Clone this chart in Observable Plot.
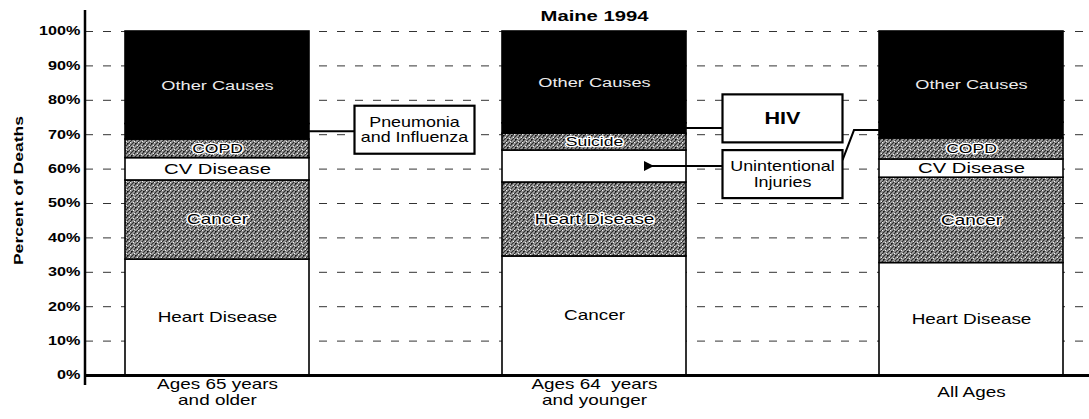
<!DOCTYPE html>
<html><head><meta charset="utf-8">
<script src="https://cdn.jsdelivr.net/npm/d3@7"></script>
<script src="https://cdn.jsdelivr.net/npm/@observablehq/plot@0.6"></script>
<style>
body{margin:0;background:#fff;}
#chart svg{display:block;}
</style></head><body><div id="chart"></div>
<script>
const title = "Maine 1994";
const yLabel = "Percent of Deaths";
const categories = ["Ages 65 years\nand older", "Ages 64  years\nand younger", "All Ages"];
const causes65 = ["Heart Disease", "Cancer", "CV Disease", "COPD", "Pneumonia and Influenza", "Other Causes"];
const values65 = [33.7, 23.0, 6.5, 5.4, 4.5, 26.9];
const causes64 = ["Cancer", "Heart Disease", "Unintentional Injuries", "Suicide", "HIV", "Other Causes"];
const values64 = [34.6, 21.5, 9.3, 4.9, 3.0, 26.7];
const causesAll = ["Heart Disease", "Cancer", "CV Disease", "COPD", "Unintentional Injuries", "Other Causes"];
const valuesAll = [32.7, 24.8, 5.3, 6.1, 4.6, 26.5];
const yTicks = [0, 10, 20, 30, 40, 50, 60, 70, 80, 90, 100];
const calloutCauses = ["Pneumonia and Influenza", "HIV", "Unintentional Injuries"];
const calloutLabels = ["Pneumonia\nand Influenza", "HIV", "Unintentional\nInjuries"];

// ---- build table ----
const allCauses = [causes65, causes64, causesAll];
const allValues = [values65, values64, valuesAll];
const rows = [];
allCauses.forEach((cs, i) => {
  let acc = 0;
  cs.forEach((cause, j) => {
    const v = allValues[i][j];
    rows.push({group: categories[i], bar: i, cause, value: v, rank: j, y1: acc, y2: acc + v});
    acc += v;
  });
});
rows.forEach(r => {
  r.shade = r.rank >= 4 ? "black" : (r.rank % 2 ? "url(#stipple)" : "white");
  r.called = calloutCauses.includes(r.cause);
});
const labels = rows.filter(r => !r.called).map(r => {
  let ym = (r.y1 + r.y2) / 2;
  if (r.shade === "black") {
    const start = d3.min(rows.filter(q => q.bar === r.bar && q.shade === "black"), q => q.y1);
    ym = (start + r.y2) / 2;
  }
  return {...r, ym};
});

function defsMark() {
  const defs = d3.create("svg:defs");
  const p = defs.append("pattern").attr("id", "stipple").attr("patternUnits", "userSpaceOnUse")
    .attr("width", 8).attr("height", 8);
  p.append("rect").attr("width", 8).attr("height", 8).attr("fill", "#a2a2a2");
  p.append("path").attr("d", "M-1,1 l2,-2 M-1,5 l6,-6 M-1,9 l10,-10 M3,9 l6,-6 M7,9 l2,-2")
    .attr("stroke", "#2e2e2e").attr("stroke-width", 1.2);
  p.append("path").attr("d", "M1,1h1v1h-1z M5,2h1v1h-1z M2,6h1v1h-1z M6,5h1v1h-1z")
    .attr("fill", "#f2f2f2");
  p.append("path").attr("d", "M3,3h1v1h-1z M7,7h1v1h-1z").attr("fill", "#111");
  defs.append("marker").attr("id", "arrowhead").attr("viewBox", "0 0 10 10")
    .attr("refX", 2).attr("refY", 5).attr("markerWidth", 5).attr("markerHeight", 5)
    .attr("orient", "auto-start-reverse")
    .append("path").attr("d", "M10,0 L0,5 L10,10 z").attr("fill", "black");
  return defs.node();
}

const FONT = "'Liberation Sans', Arial, Helvetica, sans-serif";

const plot = Plot.plot({
  width: 1089,
  height: 419,
  marginTop: 31,
  marginBottom: 44,
  marginLeft: 85,
  marginRight: 0,
  style: {fontFamily: FONT, background: "white", color: "black"},
  x: {domain: categories, paddingInner: 0.513, paddingOuter: 0.086, align: 0.6, axis: null},
  y: {domain: [0, 100], axis: null},
  color: {type: "identity"},
  marks: [
    defsMark,
    Plot.ruleY(yTicks.filter(d => d > 0), {stroke: "#333", strokeWidth: 1, strokeDasharray: "8,10"}),
    Plot.barY(rows, {x: "group", y1: "y1", y2: "y2", fill: "shade", stroke: "black", strokeWidth: 1.6}),
    Plot.text(labels.filter(d => d.shade === "white"), {x: "group", y: "ym", text: "cause", fill: "black",
      fontSize: d => d.value < 10 ? 15 : 14}),
    Plot.text(labels.filter(d => d.shade !== "white" && d.shade !== "black"), {x: "group", y: "ym", text: "cause",
      fill: "black", stroke: "white", strokeWidth: 2.5, paintOrder: "stroke",
      fontSize: d => d.value < 7 ? 13 : 14, fontWeight: d => d.value < 7 ? "bold" : "normal"}),
    Plot.text(labels.filter(d => d.shade === "black"), {x: "group", y: "ym", text: "cause", fill: "#ececec", fontSize: 13.5}),
    Plot.ruleY([0], {stroke: "black", strokeWidth: 3}),
    Plot.axisY({ticks: yTicks, tickFormat: d => d + "%", tickSize: 0, tickPadding: 5, label: null,
      fontSize: 12, fontWeight: "bold", ariaLabel: "yticks"}),
    Plot.text([yLabel], {frameAnchor: "left", textAnchor: "middle", rotate: -90, dx: -67, dy: -13,
      fontSize: 13, fontWeight: "bold", ariaLabel: "ylabel"}),
    Plot.text(categories, {x: d => d, frameAnchor: "bottom", lineAnchor: "middle", dy: 16, lineHeight: 1.18,
      fontSize: 14, ariaLabel: "xlabels"}),
    Plot.text([{t: title, g: categories[1]}], {x: "g", text: "t", frameAnchor: "top", dy: -21, fontSize: 15,
      fontWeight: "bold", ariaLabel: "title"})
  ]
});
document.getElementById("chart").appendChild(plot);

// ---- callouts and axis line, positioned through the plot's scales ----
const xs = plot.scale("x"), ys = plot.scale("y");
const svg = d3.select(plot);
const g = svg.append("g").attr("fill", "none").attr("stroke", "black");
const leftOf = i => xs.apply(categories[i]);
const rightOf = i => xs.apply(categories[i]) + xs.bandwidth;
const segMid = (bar, cause) => {
  const r = rows.find(q => q.bar === bar && q.cause === cause);
  return ys.apply((r.y1 + r.y2) / 2);
};
// y axis line
g.append("line").attr("x1", 85).attr("x2", 85)
  .attr("y1", ys.apply(100) - 21).attr("y2", ys.apply(0) + 10).attr("stroke-width", 2.5);

const boxW = 120, boxH = 48;
const boxCenterPct = [71.3, 74.6, 58.4];
const boxShiftX = [9, 0, 0];
calloutCauses.forEach((cause, k) => {
  const bars = rows.filter(r => r.cause === cause).map(r => r.bar);
  const gap = bars[0];
  const cx = (rightOf(gap) + leftOf(gap + 1)) / 2 + boxShiftX[k];
  const cy = ys.apply(boxCenterPct[k]);
  const bx = cx - boxW / 2, by = cy - boxH / 2;
  bars.forEach(b => {
    const r = rows.find(q => q.bar === b && q.cause === cause);
    const yy = segMid(b, cause);
    if (b <= gap) {
      if (r.shade === "white") {
        g.append("line").attr("x1", bx).attr("y1", yy).attr("x2", rightOf(b) - 34).attr("y2", yy)
          .attr("stroke-width", 2).attr("marker-end", "url(#arrowhead)");
      } else {
        g.append("line").attr("x1", rightOf(b)).attr("y1", yy).attr("x2", bx).attr("y2", yy).attr("stroke-width", 2);
      }
    } else {
      const sx = leftOf(b) - 25;
      g.append("polyline").attr("points", `${bx + boxW},${by + 10} ${sx},${yy} ${leftOf(b)},${yy}`)
        .attr("stroke-width", 2);
    }
  });
  g.append("rect").attr("x", bx).attr("y", by).attr("width", boxW).attr("height", boxH)
    .attr("fill", "white").attr("stroke-width", 2.2);
  const lines = calloutLabels[k].split("\n");
  const single = lines.length === 1;
  const t = svg.append("text").attr("text-anchor", "middle").attr("font-family", FONT)
    .attr("font-size", single ? 16 : 14).attr("font-weight", single ? "bold" : "normal").attr("fill", "black")
    .attr("data-stretch", single ? 1.35 : 1.28);
  lines.forEach((ln, i) => {
    t.append("tspan").attr("x", cx).attr("y", cy + (i - (lines.length - 1) / 2) * 15.5).attr("dy", "0.35em").text(ln);
  });
});

// horizontal stretch of the glyphs, to match the wide lettering of the reference
function stretch(el, s) {
  let ax = parseFloat(el.getAttribute("x"));
  if (isNaN(ax)) {
    const ts = el.querySelector("tspan");
    ax = ts ? parseFloat(ts.getAttribute("x")) || 0 : 0;
  }
  const tr = el.getAttribute("transform") || "";
  el.setAttribute("transform", `${tr} translate(${ax},0) scale(${s},1) translate(${-ax},0)`);
}
const special = {title: 1.12, ylabel: 1.4, xlabels: 1.45, yticks: 1.35};
plot.querySelectorAll("text").forEach(t => {
  const grp = t.closest("g[aria-label]");
  const key = grp ? grp.getAttribute("aria-label") : null;
  const own = parseFloat(t.getAttribute("data-stretch"));
  stretch(t, !isNaN(own) ? own : (special[key] ?? 1.35));
});
</script>
</body></html>
